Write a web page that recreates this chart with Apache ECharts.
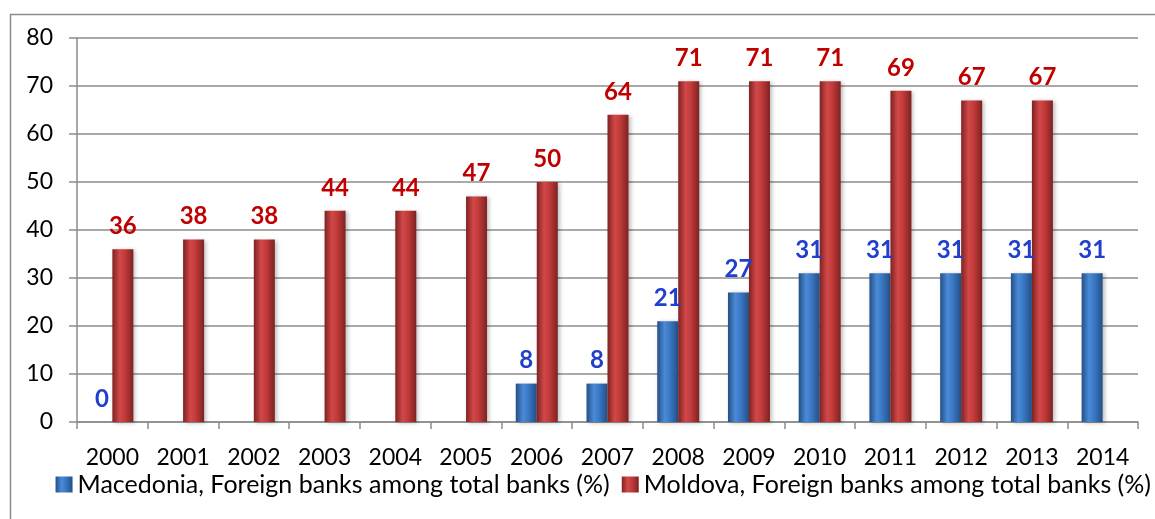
<!DOCTYPE html>
<html>
<head>
<meta charset="utf-8">
<script src="https://cdn.jsdelivr.net/npm/echarts@6/dist/echarts.min.js"></script>
<style>
  html, body { margin: 0; padding: 0; background: #fff; }
  #chart { width: 1155px; height: 519px; }
</style>
</head>
<body>
<div id="chart"></div>
<script>
// Years on the category axis
const years = ['2000','2001','2002','2003','2004','2005','2006','2007','2008','2009','2010','2011','2012','2013','2014'];
// Share of foreign banks among total banks (%); null = no data
const macedonia = [0, null, null, null, null, null, 8, 8, 21, 27, 31, 31, 31, 31, 31];
const moldova   = [36, 38, 38, 44, 44, 47, 50, 64, 71, 71, 71, 69, 67, 67, null];
const seriesNames = [
  'Macedonia, Foreign banks among total banks (%)',
  'Moldova, Foreign banks among total banks (%)'
];
const yTicks = { min: 0, max: 80, interval: 10 };

const FONT = 'Lato, "Open Sans", sans-serif';

// Horizontal gradient giving a rounded, cylinder-like bar face
function cylinder(edge, mid, light) {
  return new echarts.graphic.LinearGradient(0, 0, 1, 0, [
    { offset: 0, color: edge },
    { offset: 0.35, color: light },
    { offset: 0.6, color: mid },
    { offset: 1, color: edge }
  ]);
}

const chart = echarts.init(document.getElementById('chart'), null, { renderer: 'canvas' });

chart.setOption({
  animation: false,
  backgroundColor: '#ffffff',
  graphic: [{
    type: 'rect',
    left: 8, top: 12,
    shape: { width: 1160, height: 520 },
    style: { fill: 'none', stroke: '#8c8c8c', lineWidth: 1.5 },
    silent: true
  }],
  grid: { left: 77, right: 17, top: 38, bottom: 97, containLabel: false },
  legend: {
    top: 472,
    right: 4,
    padding: 0,
    itemWidth: 17,
    itemHeight: 16,
    itemGap: 12,
    icon: 'rect',
    textStyle: { fontFamily: FONT, fontSize: 25, color: '#000' },
    data: seriesNames
  },
  xAxis: {
    type: 'category',
    data: years,
    axisLine: { lineStyle: { color: '#8c8c8c', width: 1.5 } },
    axisTick: { show: true, length: 7, lineStyle: { color: '#8c8c8c', width: 1.5 } },
    axisLabel: { fontFamily: FONT, fontSize: 23, color: '#000', margin: 24 }
  },
  yAxis: {
    type: 'value',
    min: yTicks.min, max: yTicks.max, interval: yTicks.interval,
    axisLine: { show: true, lineStyle: { color: '#8c8c8c', width: 1.5 } },
    axisTick: { show: true, length: 8, lineStyle: { color: '#8c8c8c', width: 1.5 } },
    splitLine: { lineStyle: { color: '#8c8c8c', width: 1.5 } },
    axisLabel: { fontFamily: FONT, fontSize: 23, color: '#000', margin: 24 }
  },
  series: [
    {
      name: seriesNames[0],
      type: 'bar',
      data: macedonia,
      barWidth: 21,
      barGap: '0%',
      itemStyle: {
        color: cylinder('#244f86', '#3a78c4', '#4a8ad6'),
        shadowColor: 'rgba(0,0,0,0.25)', shadowBlur: 4, shadowOffsetX: 2, shadowOffsetY: 1
      },
      label: {
        show: true, position: 'top', distance: 11,
        fontFamily: FONT, fontWeight: 'bold', fontSize: 24, color: '#1f3fcc'
      }
    },
    {
      name: seriesNames[1],
      type: 'bar',
      data: moldova,
      barWidth: 21,
      itemStyle: {
        color: cylinder('#7e2222', '#c23a3a', '#d24848'),
        shadowColor: 'rgba(0,0,0,0.25)', shadowBlur: 4, shadowOffsetX: 2, shadowOffsetY: 1
      },
      label: {
        show: true, position: 'top', distance: 11,
        fontFamily: FONT, fontWeight: 'bold', fontSize: 24, color: '#c00000'
      }
    }
  ]
});
</script>
</body>
</html>
